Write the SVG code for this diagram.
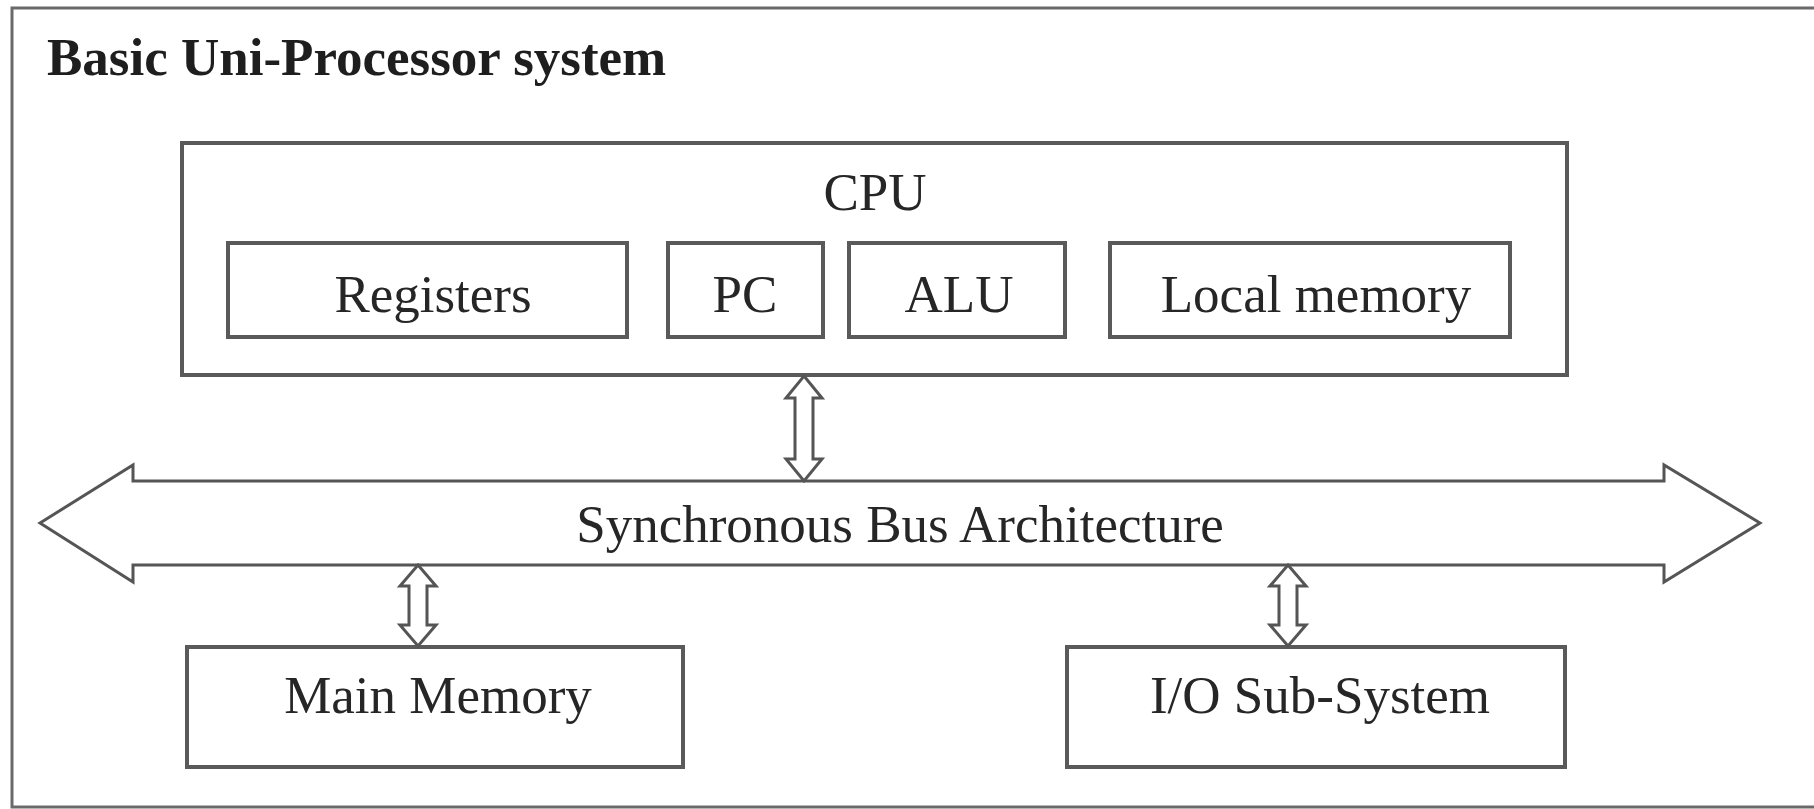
<svg xmlns="http://www.w3.org/2000/svg" width="1814" height="809" viewBox="0 0 1814 809">
<style>
.box{fill:#fff;stroke:#5a5a5a;stroke-width:4}
.frame{fill:#fff;stroke:#6a6a6a;stroke-width:3}
.t{font-family:"Liberation Serif","Times New Roman",serif;font-size:53px;fill:#262626;text-anchor:middle}
.title{font-family:"Liberation Serif","Times New Roman",serif;font-size:53px;font-weight:bold;fill:#1e1e1e}
.arr{fill:#fff;stroke:#555;stroke-width:3;stroke-linejoin:miter}
</style>
<rect x="0" y="0" width="1814" height="809" fill="#fff"/>
<rect class="frame" x="12" y="8" width="1830" height="799"/>
<text class="title" x="47" y="75">Basic Uni-Processor system</text>
<g id="cpu">
<rect class="box" x="182" y="143" width="1385" height="232"/>
<text class="t" x="875" y="210">CPU</text>
</g>
<g id="registers">
<rect class="box" x="228" y="243" width="399" height="94"/>
<text class="t" x="433" y="312">Registers</text>
</g>
<g id="pc">
<rect class="box" x="668" y="243" width="155" height="94"/>
<text class="t" x="745" y="312">PC</text>
</g>
<g id="alu">
<rect class="box" x="849" y="243" width="216" height="94"/>
<text class="t" x="959" y="312">ALU</text>
</g>
<g id="local-memory">
<rect class="box" x="1110" y="243" width="400" height="94"/>
<text class="t" x="1316" y="312">Local memory</text>
</g>
<g id="bus">
<polygon class="arr" points="40,523 133,465 133,481 1664,481 1664,465 1760,523 1664,582 1664,565 133,565 133,582"/>
<text class="t" x="900" y="542">Synchronous Bus Architecture</text>
</g>
<g id="main-memory">
<rect class="box" x="187" y="647" width="496" height="120"/>
<text class="t" x="438" y="713">Main Memory</text>
</g>
<g id="io-subsystem">
<rect class="box" x="1067" y="647" width="498" height="120"/>
<text class="t" x="1320" y="713">I/O Sub-System</text>
</g>
<g id="connectors">
<polygon class="arr" points="804,376 822,398 813,398 813,459 822,459 804,481 786,459 795,459 795,398 786,398"/>
<polygon class="arr" points="418,565 436,586 427,586 427,625 436,625 418,646 400,625 409,625 409,586 400,586"/>
<polygon class="arr" points="1288,565 1306,586 1297,586 1297,625 1306,625 1288,646 1270,625 1279,625 1279,586 1270,586"/>
</g>
</svg>
